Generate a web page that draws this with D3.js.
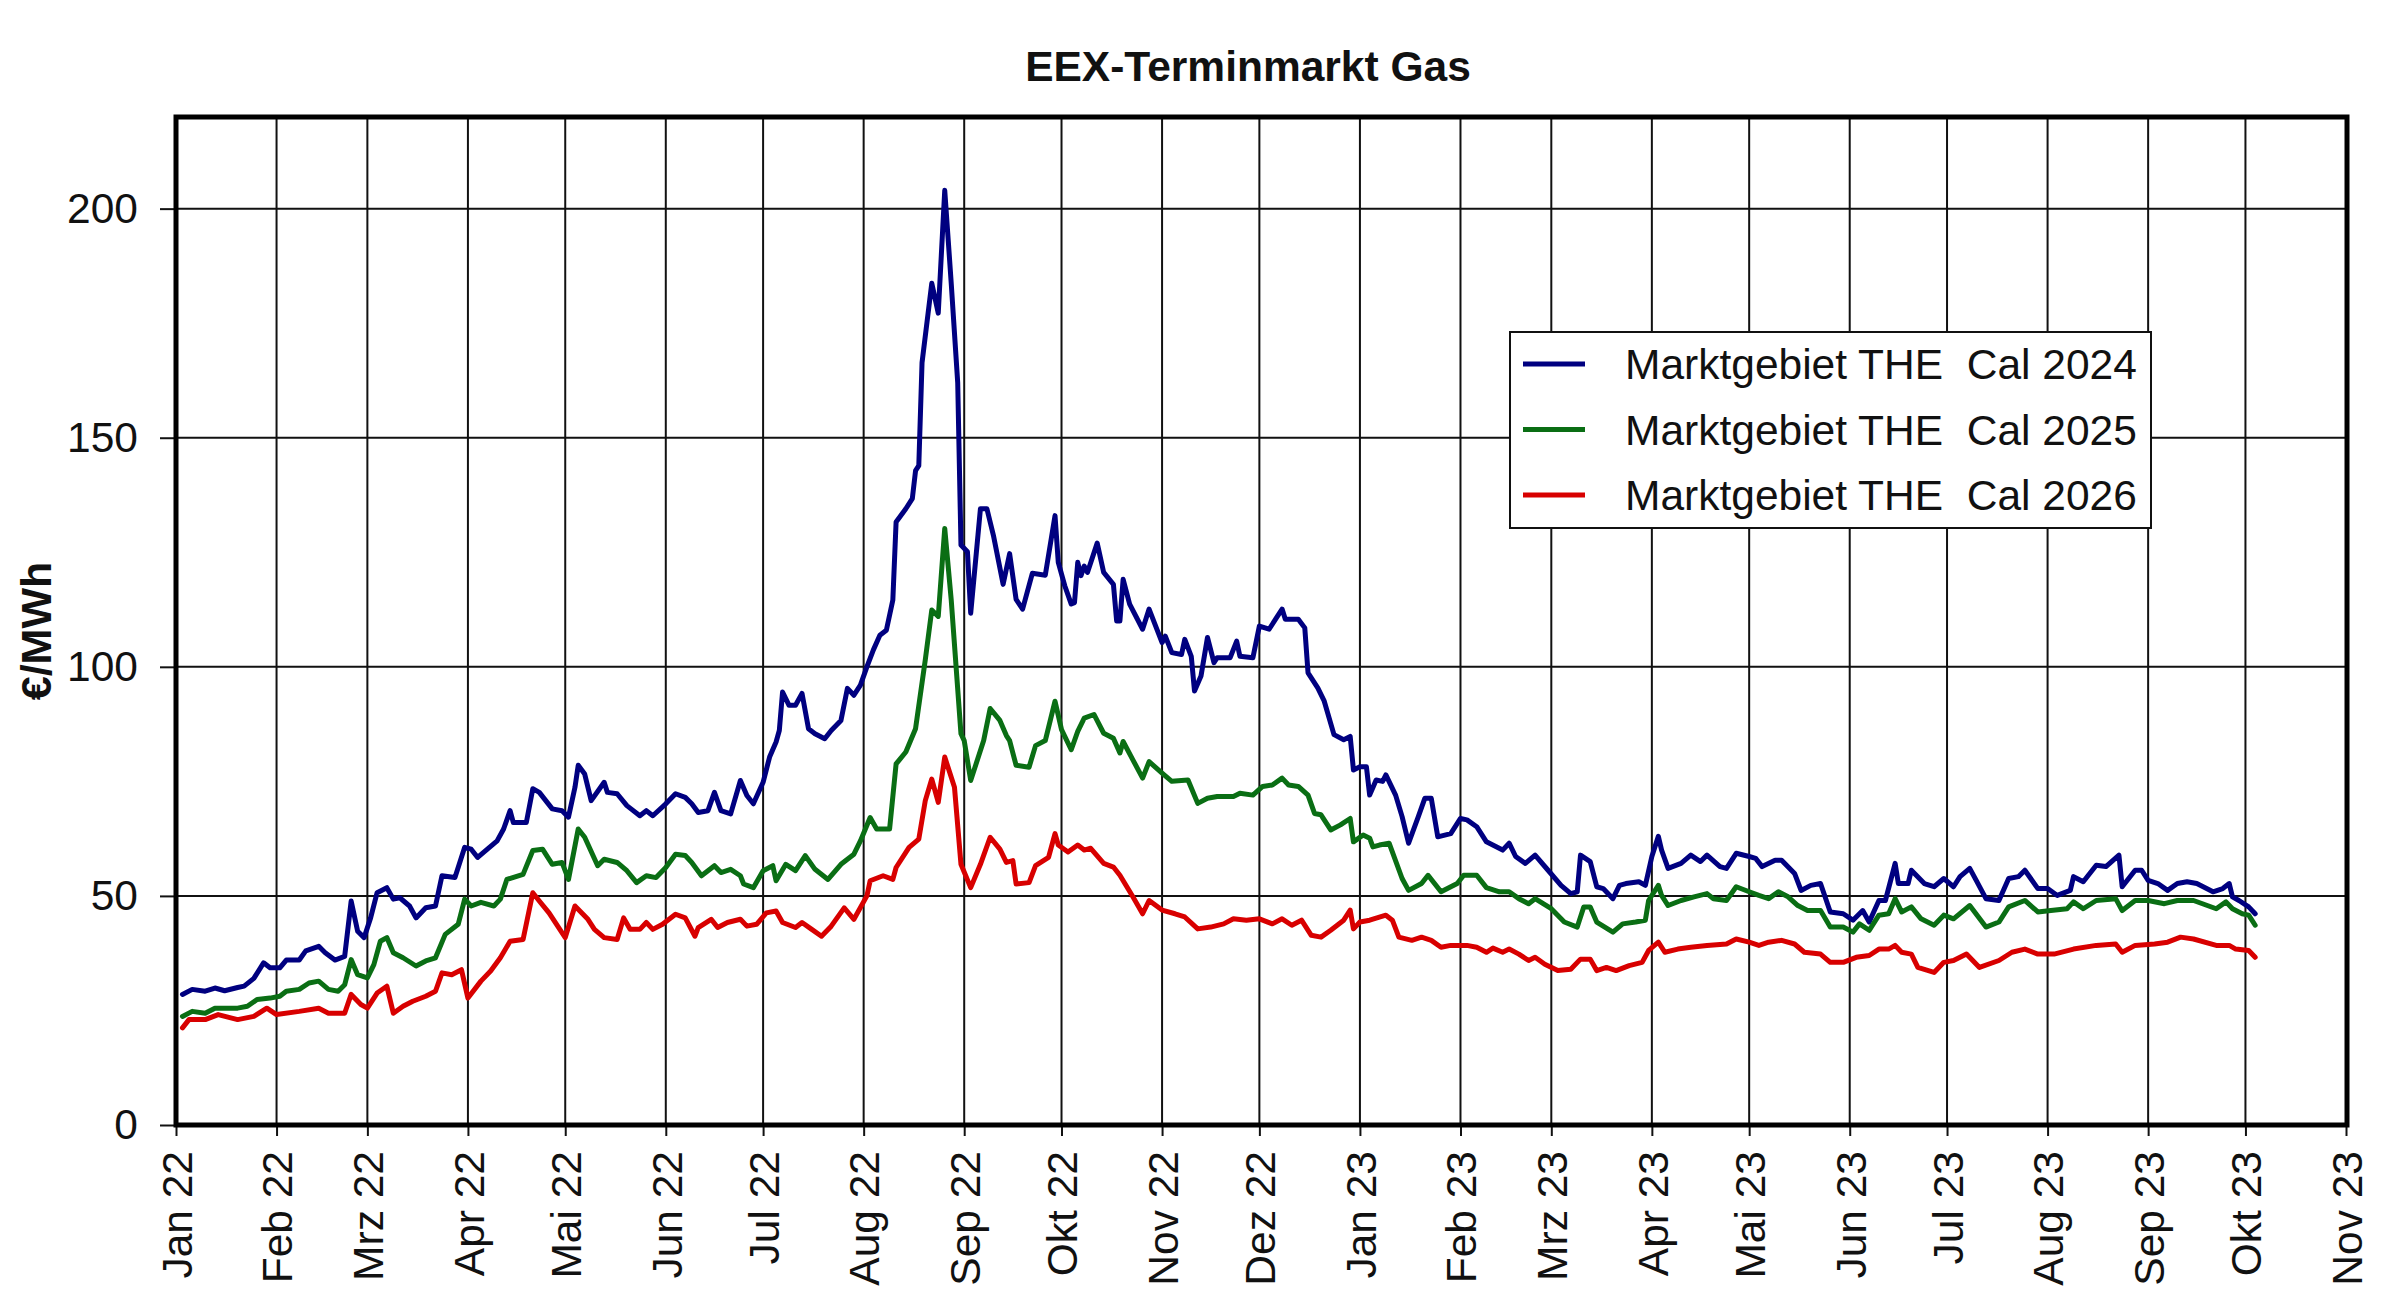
<!DOCTYPE html>
<html>
<head>
<meta charset="utf-8">
<script src="https://cdn.jsdelivr.net/npm/d3@7"></script>
<style>
  html, body { margin: 0; padding: 0; background: #fff; }
  svg { display: block; }
  text { font-family: "Liberation Sans", Arial, sans-serif; fill: #111; }
</style>
</head>
<body>
<svg id="chart" width="2400" height="1308"></svg>
<script>
// ---------------- data ----------------
const chartTitle = "EEX-Terminmarkt Gas";
const yAxisLabel = "€/MWh";
const seriesNames = ["Marktgebiet THE  Cal 2024", "Marktgebiet THE  Cal 2025", "Marktgebiet THE  Cal 2026"];
const monthLabels = ["Jan","Feb","Mrz","Apr","Mai","Jun","Jul","Aug","Sep","Okt","Nov","Dez"];
const yTicks = [0, 50, 100, 150, 200];
const xDomain = ["2022-01-01", "2023-11-01"];
const yDomain = [0, 220];

const cal2024 = [
["2022-01-03",28.5],["2022-01-06",29.6],["2022-01-10",29.2],["2022-01-13",29.9],["2022-01-16",29.3],["2022-01-20",30.0],["2022-01-22",30.3],["2022-01-25",32.0],["2022-01-28",35.4],["2022-01-30",34.3],["2022-02-02",34.3],["2022-02-04",36.0],["2022-02-08",36.0],["2022-02-10",38.0],["2022-02-14",39.0],["2022-02-16",37.6],["2022-02-19",36.0],["2022-02-22",36.8],["2022-02-24",48.9],["2022-02-26",42.3],["2022-02-28",40.9],["2022-03-02",45.2],["2022-03-04",50.7],["2022-03-07",51.8],["2022-03-09",49.3],["2022-03-11",49.6],["2022-03-14",47.8],["2022-03-16",45.2],["2022-03-19",47.4],["2022-03-22",47.8],["2022-03-24",54.4],["2022-03-28",54.0],["2022-03-31",60.6],["2022-04-02",60.2],["2022-04-04",58.4],["2022-04-07",60.2],["2022-04-10",62.0],["2022-04-12",64.6],["2022-04-14",68.6],["2022-04-15",66.0],["2022-04-19",66.0],["2022-04-21",73.4],["2022-04-23",72.6],["2022-04-27",69.0],["2022-04-30",68.6],["2022-05-02",67.2],["2022-05-04",73.7],["2022-05-05",78.5],["2022-05-07",76.6],["2022-05-09",70.8],["2022-05-13",74.8],["2022-05-14",72.6],["2022-05-17",72.3],["2022-05-20",69.7],["2022-05-24",67.5],["2022-05-26",68.6],["2022-05-28",67.5],["2022-06-01",70.1],["2022-06-04",72.3],["2022-06-07",71.5],["2022-06-09",70.1],["2022-06-11",68.2],["2022-06-14",68.6],["2022-06-16",72.6],["2022-06-18",68.6],["2022-06-21",67.9],["2022-06-24",75.2],["2022-06-26",71.9],["2022-06-28",70.1],["2022-07-01",74.8],["2022-07-03",80.3],["2022-07-05",83.6],["2022-07-06",86.1],["2022-07-07",94.5],["2022-07-09",91.6],["2022-07-11",91.6],["2022-07-13",94.2],["2022-07-15",86.5],["2022-07-17",85.4],["2022-07-20",84.3],["2022-07-22",86.1],["2022-07-25",88.3],["2022-07-27",95.3],["2022-07-29",93.8],["2022-07-31",96.0],["2022-08-02",100.0],["2022-08-04",103.7],["2022-08-06",106.9],["2022-08-08",108.0],["2022-08-10",114.6],["2022-08-11",131.6],["2022-08-14",134.5],["2022-08-16",136.7],["2022-08-17",142.8],["2022-08-18",143.9],["2022-08-19",166.4],["2022-08-22",183.7],["2022-08-24",177.2],["2022-08-26",204.0],["2022-08-28",183.7],["2022-08-30",162.0],["2022-08-31",126.6],["2022-09-02",125.1],["2022-09-03",111.7],["2022-09-06",134.5],["2022-09-08",134.5],["2022-09-10",128.7],["2022-09-13",118.0],["2022-09-15",124.7],["2022-09-17",114.7],["2022-09-19",112.6],["2022-09-22",120.4],["2022-09-26",120.0],["2022-09-29",133.0],["2022-09-30",122.8],["2022-10-02",117.7],["2022-10-04",113.7],["2022-10-05",114.0],["2022-10-06",122.8],["2022-10-07",119.9],["2022-10-08",122.0],["2022-10-09",120.6],["2022-10-12",127.0],["2022-10-14",120.6],["2022-10-17",118.0],["2022-10-18",110.0],["2022-10-19",110.0],["2022-10-20",119.1],["2022-10-22",113.7],["2022-10-26",108.2],["2022-10-28",112.6],["2022-11-01",105.3],["2022-11-02",106.7],["2022-11-04",103.1],["2022-11-07",102.7],["2022-11-08",106.0],["2022-11-10",102.3],["2022-11-11",94.7],["2022-11-13",98.0],["2022-11-15",106.4],["2022-11-17",100.9],["2022-11-18",102.0],["2022-11-22",102.0],["2022-11-24",105.6],["2022-11-25",102.3],["2022-11-29",102.0],["2022-12-01",108.9],["2022-12-04",108.2],["2022-12-06",110.4],["2022-12-08",112.6],["2022-12-09",110.4],["2022-12-13",110.4],["2022-12-15",108.5],["2022-12-16",98.7],["2022-12-19",95.4],["2022-12-21",92.5],["2022-12-24",85.2],["2022-12-27",84.1],["2022-12-29",84.8],["2022-12-30",77.5],["2023-01-01",78.2],["2023-01-03",78.2],["2023-01-04",72.0],["2023-01-06",75.3],["2023-01-08",75.0],["2023-01-09",76.4],["2023-01-12",72.0],["2023-01-14",67.3],["2023-01-16",61.5],["2023-01-19",67.3],["2023-01-21",71.3],["2023-01-23",71.3],["2023-01-25",62.9],["2023-01-29",63.6],["2023-02-01",66.9],["2023-02-03",66.6],["2023-02-06",65.1],["2023-02-09",61.8],["2023-02-14",60.0],["2023-02-16",61.5],["2023-02-18",58.6],["2023-02-21",57.1],["2023-02-24",58.9],["2023-02-28",55.6],["2023-03-04",52.3],["2023-03-07",50.5],["2023-03-09",50.9],["2023-03-10",58.9],["2023-03-13",57.5],["2023-03-15",52.0],["2023-03-17",51.6],["2023-03-20",49.4],["2023-03-22",52.3],["2023-03-24",52.7],["2023-03-28",53.1],["2023-03-30",52.3],["2023-04-01",58.6],["2023-04-03",63.0],["2023-04-04",60.0],["2023-04-06",56.0],["2023-04-10",57.1],["2023-04-13",58.9],["2023-04-16",57.5],["2023-04-18",58.9],["2023-04-22",56.4],["2023-04-24",56.0],["2023-04-27",59.3],["2023-05-01",58.6],["2023-05-03",58.2],["2023-05-05",56.4],["2023-05-09",57.8],["2023-05-11",57.8],["2023-05-15",54.9],["2023-05-17",51.2],["2023-05-20",52.3],["2023-05-23",52.7],["2023-05-26",46.5],["2023-05-30",46.1],["2023-06-02",44.7],["2023-06-05",46.8],["2023-06-07",44.3],["2023-06-10",49.0],["2023-06-12",49.0],["2023-06-15",57.1],["2023-06-16",52.7],["2023-06-19",52.7],["2023-06-20",55.6],["2023-06-24",52.7],["2023-06-27",52.0],["2023-06-30",53.8],["2023-07-03",52.0],["2023-07-05",54.2],["2023-07-08",56.0],["2023-07-10",53.4],["2023-07-13",49.4],["2023-07-17",49.0],["2023-07-20",53.8],["2023-07-23",54.2],["2023-07-25",55.6],["2023-07-29",51.6],["2023-08-01",51.6],["2023-08-04",50.1],["2023-08-08",51.2],["2023-08-09",54.2],["2023-08-12",53.1],["2023-08-16",56.7],["2023-08-19",56.4],["2023-08-23",58.9],["2023-08-24",52.0],["2023-08-28",55.6],["2023-08-30",55.6],["2023-09-01",53.4],["2023-09-04",52.7],["2023-09-07",51.2],["2023-09-10",52.7],["2023-09-13",53.1],["2023-09-16",52.7],["2023-09-21",50.9],["2023-09-24",51.6],["2023-09-26",52.7],["2023-09-27",49.8],["2023-09-29",49.0],["2023-10-02",47.6],["2023-10-04",46.1]
];

const cal2025 = [
["2022-01-03",23.7],["2022-01-06",24.8],["2022-01-10",24.4],["2022-01-13",25.5],["2022-01-20",25.5],["2022-01-23",25.9],["2022-01-26",27.4],["2022-01-30",27.7],["2022-02-02",28.1],["2022-02-04",29.2],["2022-02-08",29.6],["2022-02-11",31.0],["2022-02-14",31.4],["2022-02-17",29.6],["2022-02-20",29.2],["2022-02-22",30.6],["2022-02-24",36.1],["2022-02-26",32.8],["2022-03-01",32.1],["2022-03-03",35.0],["2022-03-05",40.1],["2022-03-07",40.9],["2022-03-09",37.6],["2022-03-12",36.5],["2022-03-16",34.7],["2022-03-19",35.8],["2022-03-22",36.5],["2022-03-25",41.6],["2022-03-29",43.8],["2022-03-31",49.3],["2022-04-02",47.8],["2022-04-05",48.6],["2022-04-09",47.8],["2022-04-11",49.3],["2022-04-13",53.6],["2022-04-18",54.7],["2022-04-21",59.9],["2022-04-24",60.2],["2022-04-27",56.9],["2022-04-30",57.3],["2022-05-02",53.6],["2022-05-05",64.6],["2022-05-07",62.8],["2022-05-11",56.6],["2022-05-13",58.0],["2022-05-17",57.3],["2022-05-20",55.5],["2022-05-23",52.9],["2022-05-26",54.4],["2022-05-29",54.0],["2022-06-01",56.2],["2022-06-04",59.1],["2022-06-07",58.8],["2022-06-09",57.3],["2022-06-12",54.4],["2022-06-16",56.6],["2022-06-18",55.1],["2022-06-21",55.8],["2022-06-24",54.4],["2022-06-25",52.6],["2022-06-28",51.8],["2022-07-01",55.5],["2022-07-04",56.6],["2022-07-05",53.3],["2022-07-08",56.9],["2022-07-11",55.5],["2022-07-14",58.8],["2022-07-17",55.8],["2022-07-21",53.6],["2022-07-25",56.9],["2022-07-29",59.1],["2022-07-31",62.0],["2022-08-03",67.1],["2022-08-05",64.6],["2022-08-09",64.6],["2022-08-11",78.8],["2022-08-14",81.4],["2022-08-17",86.5],["2022-08-20",101.5],["2022-08-22",112.4],["2022-08-24",111.0],["2022-08-26",130.2],["2022-08-28",114.6],["2022-08-31",85.4],["2022-09-01",83.9],["2022-09-03",75.2],["2022-09-07",83.9],["2022-09-09",90.9],["2022-09-12",88.3],["2022-09-14",85.0],["2022-09-15",83.9],["2022-09-17",78.5],["2022-09-21",78.1],["2022-09-23",82.8],["2022-09-26",83.9],["2022-09-29",92.5],["2022-10-01",86.3],["2022-10-04",81.9],["2022-10-06",85.9],["2022-10-08",88.8],["2022-10-11",89.6],["2022-10-14",85.5],["2022-10-17",84.4],["2022-10-19",81.2],["2022-10-20",83.7],["2022-10-23",79.7],["2022-10-26",75.7],["2022-10-28",79.3],["2022-11-01",76.8],["2022-11-04",75.0],["2022-11-09",75.3],["2022-11-12",70.2],["2022-11-15",71.3],["2022-11-18",71.7],["2022-11-23",71.7],["2022-11-25",72.4],["2022-11-29",72.0],["2022-12-02",73.9],["2022-12-05",74.2],["2022-12-08",75.7],["2022-12-10",74.2],["2022-12-13",73.9],["2022-12-16",72.0],["2022-12-18",68.0],["2022-12-20",67.7],["2022-12-23",64.4],["2022-12-26",65.5],["2022-12-29",66.9],["2022-12-30",61.8],["2023-01-02",63.3],["2023-01-04",62.6],["2023-01-05",60.7],["2023-01-07",61.1],["2023-01-10",61.5],["2023-01-14",53.8],["2023-01-16",51.2],["2023-01-20",52.7],["2023-01-22",54.5],["2023-01-26",50.9],["2023-01-31",52.7],["2023-02-02",54.5],["2023-02-06",54.5],["2023-02-09",51.8],["2023-02-13",50.9],["2023-02-16",50.9],["2023-02-19",49.4],["2023-02-22",48.3],["2023-02-24",49.4],["2023-03-01",47.2],["2023-03-05",44.3],["2023-03-09",43.2],["2023-03-11",47.6],["2023-03-13",47.6],["2023-03-15",44.3],["2023-03-20",42.1],["2023-03-23",43.9],["2023-03-27",44.3],["2023-03-30",44.7],["2023-03-31",49.0],["2023-04-03",52.3],["2023-04-04",50.1],["2023-04-06",47.9],["2023-04-10",49.0],["2023-04-14",49.8],["2023-04-18",50.5],["2023-04-20",49.4],["2023-04-24",49.0],["2023-04-27",52.0],["2023-05-01",50.9],["2023-05-04",50.1],["2023-05-07",49.4],["2023-05-10",50.9],["2023-05-13",49.8],["2023-05-16",47.9],["2023-05-19",46.8],["2023-05-23",46.8],["2023-05-26",43.2],["2023-05-30",43.2],["2023-06-02",42.1],["2023-06-04",43.9],["2023-06-07",42.5],["2023-06-10",45.8],["2023-06-13",46.1],["2023-06-15",49.4],["2023-06-17",46.5],["2023-06-20",47.6],["2023-06-23",45.0],["2023-06-27",43.6],["2023-06-30",45.8],["2023-07-03",45.0],["2023-07-08",47.9],["2023-07-13",43.2],["2023-07-17",44.3],["2023-07-20",47.6],["2023-07-25",49.0],["2023-07-29",46.5],["2023-08-02",46.8],["2023-08-07",47.2],["2023-08-09",48.7],["2023-08-12",47.2],["2023-08-16",49.0],["2023-08-22",49.4],["2023-08-24",46.8],["2023-08-28",49.0],["2023-09-01",49.0],["2023-09-06",48.3],["2023-09-10",49.0],["2023-09-15",49.0],["2023-09-22",47.2],["2023-09-25",48.7],["2023-09-27",47.2],["2023-09-30",46.1],["2023-10-02",45.8],["2023-10-04",43.6]
];

const cal2026 = [
["2022-01-03",21.2],["2022-01-05",23.0],["2022-01-10",23.0],["2022-01-14",24.1],["2022-01-20",23.0],["2022-01-25",23.7],["2022-01-29",25.5],["2022-02-01",24.1],["2022-02-08",24.8],["2022-02-14",25.5],["2022-02-17",24.4],["2022-02-22",24.4],["2022-02-24",28.5],["2022-02-27",26.3],["2022-03-01",25.5],["2022-03-04",28.8],["2022-03-07",30.3],["2022-03-09",24.4],["2022-03-12",25.9],["2022-03-15",27.0],["2022-03-19",28.1],["2022-03-22",29.2],["2022-03-24",33.2],["2022-03-27",32.8],["2022-03-30",33.9],["2022-04-01",27.7],["2022-04-05",31.4],["2022-04-08",33.6],["2022-04-11",36.5],["2022-04-14",40.1],["2022-04-18",40.5],["2022-04-21",50.7],["2022-04-23",48.9],["2022-04-26",46.3],["2022-05-01",40.9],["2022-05-04",47.8],["2022-05-08",44.9],["2022-05-10",42.7],["2022-05-13",40.9],["2022-05-17",40.5],["2022-05-19",45.2],["2022-05-21",42.7],["2022-05-24",42.7],["2022-05-26",44.2],["2022-05-28",42.7],["2022-05-31",43.8],["2022-06-04",46.0],["2022-06-07",45.2],["2022-06-10",41.2],["2022-06-11",43.1],["2022-06-15",44.9],["2022-06-17",43.1],["2022-06-20",44.2],["2022-06-24",44.9],["2022-06-26",43.4],["2022-06-29",43.8],["2022-07-02",46.3],["2022-07-05",46.7],["2022-07-07",44.2],["2022-07-11",43.1],["2022-07-13",44.2],["2022-07-16",42.7],["2022-07-19",41.2],["2022-07-22",43.4],["2022-07-26",47.4],["2022-07-29",44.9],["2022-08-02",50.0],["2022-08-03",53.3],["2022-08-07",54.4],["2022-08-10",53.6],["2022-08-11",56.2],["2022-08-15",60.6],["2022-08-18",62.4],["2022-08-20",70.8],["2022-08-22",75.5],["2022-08-24",70.4],["2022-08-26",80.3],["2022-08-29",73.7],["2022-08-31",56.9],["2022-09-03",51.8],["2022-09-06",56.9],["2022-09-09",62.8],["2022-09-12",60.2],["2022-09-14",57.3],["2022-09-16",57.7],["2022-09-17",52.6],["2022-09-21",52.9],["2022-09-23",56.6],["2022-09-27",58.4],["2022-09-29",63.6],["2022-09-30",61.1],["2022-10-03",59.6],["2022-10-06",61.1],["2022-10-08",60.0],["2022-10-10",60.4],["2022-10-14",57.1],["2022-10-17",56.3],["2022-10-19",54.5],["2022-10-23",49.8],["2022-10-26",46.1],["2022-10-28",49.0],["2022-11-01",46.9],["2022-11-05",46.1],["2022-11-08",45.4],["2022-11-12",42.8],["2022-11-16",43.2],["2022-11-20",43.9],["2022-11-23",45.0],["2022-11-27",44.7],["2022-12-01",45.0],["2022-12-05",43.9],["2022-12-08",45.0],["2022-12-11",43.6],["2022-12-14",44.7],["2022-12-17",41.4],["2022-12-20",41.0],["2022-12-23",42.5],["2022-12-27",44.7],["2022-12-29",46.9],["2022-12-30",42.8],["2023-01-01",44.3],["2023-01-04",44.7],["2023-01-09",45.8],["2023-01-11",44.7],["2023-01-13",41.0],["2023-01-17",40.3],["2023-01-20",41.0],["2023-01-23",40.3],["2023-01-26",38.8],["2023-01-29",39.2],["2023-02-03",39.2],["2023-02-06",38.8],["2023-02-09",37.7],["2023-02-11",38.6],["2023-02-14",37.7],["2023-02-16",38.4],["2023-02-19",37.3],["2023-02-22",35.9],["2023-02-24",36.6],["2023-02-27",35.1],["2023-03-03",33.7],["2023-03-07",34.0],["2023-03-10",36.2],["2023-03-13",36.2],["2023-03-15",33.7],["2023-03-18",34.4],["2023-03-21",33.7],["2023-03-25",34.8],["2023-03-29",35.5],["2023-03-31",38.1],["2023-04-03",39.9],["2023-04-05",37.7],["2023-04-09",38.4],["2023-04-13",38.8],["2023-04-18",39.2],["2023-04-24",39.5],["2023-04-27",40.6],["2023-05-01",39.9],["2023-05-04",39.2],["2023-05-07",39.9],["2023-05-11",40.3],["2023-05-15",39.5],["2023-05-18",37.7],["2023-05-23",37.3],["2023-05-26",35.5],["2023-05-30",35.5],["2023-06-03",36.6],["2023-06-07",37.0],["2023-06-10",38.4],["2023-06-13",38.4],["2023-06-15",39.2],["2023-06-17",37.7],["2023-06-20",37.3],["2023-06-22",34.4],["2023-06-27",33.3],["2023-06-30",35.5],["2023-07-03",35.9],["2023-07-07",37.3],["2023-07-11",34.4],["2023-07-17",35.9],["2023-07-21",37.7],["2023-07-25",38.4],["2023-07-29",37.3],["2023-08-03",37.3],["2023-08-09",38.4],["2023-08-16",39.2],["2023-08-22",39.5],["2023-08-24",37.7],["2023-08-28",39.2],["2023-09-03",39.5],["2023-09-07",39.9],["2023-09-11",41.0],["2023-09-15",40.6],["2023-09-22",39.2],["2023-09-26",39.2],["2023-09-28",38.4],["2023-10-02",38.1],["2023-10-04",36.6]
];

// ---------------- drawing ----------------
const W = 2400, H = 1308;
const plot = { left: 176, right: 2347, top: 117, bottom: 1125 };
const colors = ["#000080", "#0a6e14", "#d80000"];
const font = '"Liberation Sans", Arial, sans-serif';

const parse = d3.utcParse("%Y-%m-%d");
const svg = d3.select("#chart");
svg.append("rect").attr("width", W).attr("height", H).attr("fill", "#fff");

const x = d3.scaleUtc().domain(xDomain.map(parse)).range([plot.left, plot.right - 1]);
const y = d3.scaleLinear().domain(yDomain).range([plot.bottom, plot.top]);

const months = d3.utcMonth.range(parse(xDomain[0]), d3.utcDay.offset(parse(xDomain[1]), 1));
const fmtMonth = d => monthLabels[d.getUTCMonth()] + " " + String(d.getUTCFullYear()).slice(2);

// vertical gridlines
svg.append("g").selectAll("line").data(months.slice(1)).join("line")
  .attr("x1", d => x(d)).attr("x2", d => x(d))
  .attr("y1", plot.top).attr("y2", plot.bottom)
  .attr("stroke", "#111").attr("stroke-width", 2);

// horizontal gridlines
svg.append("g").selectAll("line").data(yTicks.filter(v => v > 0)).join("line")
  .attr("x1", plot.left).attr("x2", plot.right)
  .attr("y1", d => y(d)).attr("y2", d => y(d))
  .attr("stroke", "#111").attr("stroke-width", 2);

// y axis
const yAxis = svg.append("g").attr("transform", `translate(${plot.left},0)`)
  .call(d3.axisLeft(y).tickValues(yTicks).tickSize(16).tickPadding(22).tickFormat(d3.format("d")));
yAxis.select(".domain").remove();
yAxis.selectAll(".tick line").attr("stroke", "#111").attr("stroke-width", 2);
yAxis.selectAll(".tick text").attr("font-family", font).attr("font-size", 42.5).attr("fill", "#111");

// x axis
const xAxis = svg.append("g").attr("transform", `translate(0,${plot.bottom})`)
  .call(d3.axisBottom(x).tickValues(months).tickSize(11).tickFormat(fmtMonth));
xAxis.select(".domain").remove();
xAxis.selectAll(".tick line").attr("stroke", "#111").attr("stroke-width", 2);
xAxis.selectAll(".tick text")
  .attr("font-family", font).attr("font-size", 42.5).attr("fill", "#111")
  .attr("text-anchor", "end")
  .attr("transform", "translate(0,26) rotate(-90)")
  .attr("x", 0).attr("y", 0).attr("dy", "0.36em");

// lines
const line = d3.line().x(d => x(parse(d[0]))).y(d => y(d[1]));
[cal2024, cal2025, cal2026].forEach((s, i) => {
  svg.append("path").datum(s)
    .attr("d", line)
    .attr("fill", "none")
    .attr("stroke", colors[i])
    .attr("stroke-width", 5)
    .attr("stroke-linejoin", "round")
    .attr("stroke-linecap", "round");
});

// frame
svg.append("rect")
  .attr("x", plot.left).attr("y", plot.top)
  .attr("width", plot.right - plot.left).attr("height", plot.bottom - plot.top)
  .attr("fill", "none").attr("stroke", "#000").attr("stroke-width", 5);

// title
svg.append("text").attr("x", 1248).attr("y", 81)
  .attr("text-anchor", "middle").attr("font-family", font)
  .attr("font-size", 42.5).attr("font-weight", "bold").attr("fill", "#111")
  .text(chartTitle);

// y label
svg.append("text")
  .attr("transform", "translate(51,631) rotate(-90)")
  .attr("text-anchor", "middle").attr("font-family", font)
  .attr("font-size", 43).attr("font-weight", "bold").attr("fill", "#111")
  .text(yAxisLabel);

// legend
const lg = svg.append("g");
lg.append("rect").attr("x", 1510).attr("y", 332).attr("width", 641).attr("height", 196)
  .attr("fill", "#fff").attr("stroke", "#111").attr("stroke-width", 2);
seriesNames.forEach((name, i) => {
  const cy = 364 + i * 65.5;
  lg.append("line").attr("x1", 1523).attr("x2", 1585).attr("y1", cy).attr("y2", cy)
    .attr("stroke", colors[i]).attr("stroke-width", 5);
  lg.append("text").attr("x", 1625).attr("y", cy + 15)
    .attr("font-family", font).attr("font-size", 42.5).attr("fill", "#111")
    .attr("xml:space", "preserve").style("white-space", "pre")
    .text(name);
});
</script>
</body>
</html>
